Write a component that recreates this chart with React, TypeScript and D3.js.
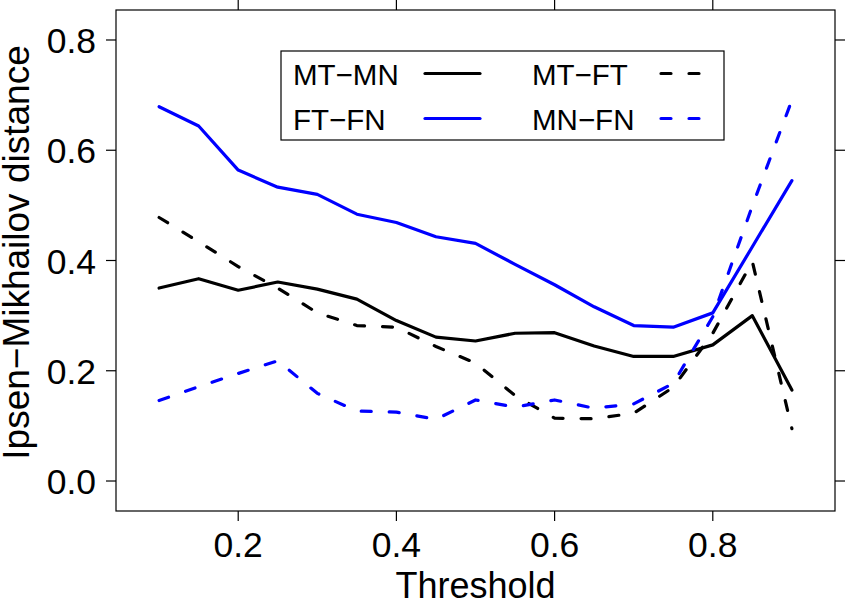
import * as d3 from "d3";

// thresholds on the x axis
const thresholds = [0.1, 0.15, 0.2, 0.25, 0.3, 0.35, 0.4, 0.45, 0.5, 0.55, 0.6, 0.65, 0.7, 0.75, 0.8, 0.85, 0.9];

// Ipsen-Mikhailov distance per pair
const mtMn = [0.35, 0.367, 0.346, 0.361, 0.348, 0.33, 0.291, 0.261, 0.254, 0.268, 0.269, 0.245, 0.226, 0.226, 0.247, 0.3, 0.165];
const mtFt = [0.478, 0.434, 0.389, 0.35, 0.305, 0.282, 0.279, 0.244, 0.214, 0.155, 0.114, 0.113, 0.123, 0.17, 0.268, 0.398, 0.095];
const ftFn = [0.679, 0.644, 0.564, 0.533, 0.52, 0.484, 0.469, 0.443, 0.431, 0.393, 0.356, 0.316, 0.282, 0.279, 0.305, 0.425, 0.545];
const mnFn = [0.146, 0.171, 0.195, 0.218, 0.159, 0.127, 0.125, 0.112, 0.147, 0.134, 0.147, 0.132, 0.14, 0.177, 0.298, 0.499, 0.691];

const xTicks = [0.2, 0.4, 0.6, 0.8];
const yTicks = [0.0, 0.2, 0.4, 0.6, 0.8];

const series = [
  { name: "MT\u2212MN", values: mtMn, color: "#000000", dashed: false },
  { name: "MT\u2212FT", values: mtFt, color: "#000000", dashed: true },
  { name: "FT\u2212FN", values: ftFn, color: "#0000ff", dashed: false },
  { name: "MN\u2212FN", values: mnFn, color: "#0000ff", dashed: true },
];

const font = "'Liberation Sans', Arial, Helvetica, sans-serif";

export default function App() {
  const left = 116, right = 835, top = 10, bottom = 511;
  const x = d3.scaleLinear().domain([0.0455, 0.9545]).range([left, right]);
  const y = d3.scaleLinear().domain([-0.0544, 0.8544]).range([bottom, top]);

  const line = d3
    .line<number>()
    .x((d, i) => x(thresholds[i]))
    .y((d) => y(d));

  const dash = "10 18";
  const lw = 3.2;

  // legend layout (2 x 2)
  const legend = { x0: 281, y0: 51, x1: 724, y1: 140 };
  const legendItems = [
    { s: series[0], tx: 293, lx: 425, ty: 84.5 },
    { s: series[1], tx: 532, lx: 661, ty: 84.5 },
    { s: series[2], tx: 293, lx: 425, ty: 129.5 },
    { s: series[3], tx: 532, lx: 661, ty: 129.5 },
  ];

  return (
    <svg
      width={845}
      height={602}
      style={{ position: "absolute", left: 0, top: 0, background: "#fff" }}
      fontFamily={font}
    >
      {/* lines */}
      {series.map((s) => (
        <path
          key={s.name}
          d={line(s.values) || ""}
          fill="none"
          stroke={s.color}
          strokeWidth={lw}
          strokeDasharray={s.dashed ? dash : undefined}
          strokeLinecap="round"
          strokeLinejoin="round"
        />
      ))}

      {/* panel box */}
      <rect x={left} y={top} width={right - left} height={bottom - top} fill="none" stroke="#000" strokeWidth={1.2} />

      {/* x ticks, bottom and top */}
      {xTicks.map((t) => (
        <g key={"x" + t}>
          <line x1={x(t)} x2={x(t)} y1={bottom} y2={bottom + 10} stroke="#000" strokeWidth={1.2} />
          <line x1={x(t)} x2={x(t)} y1={top} y2={top - 10} stroke="#000" strokeWidth={1.2} />
          <text x={x(t)} y={bottom + 46} textAnchor="middle" fontSize={35.5}>
            {t.toFixed(1)}
          </text>
        </g>
      ))}

      {/* y ticks, left and right */}
      {yTicks.map((t) => (
        <g key={"y" + t}>
          <line x1={left - 10} x2={left} y1={y(t)} y2={y(t)} stroke="#000" strokeWidth={1.2} />
          <line x1={right} x2={right + 10} y1={y(t)} y2={y(t)} stroke="#000" strokeWidth={1.2} />
          <text x={96} y={y(t) + 13} textAnchor="end" fontSize={35.5}>
            {t.toFixed(1)}
          </text>
        </g>
      ))}

      {/* axis titles */}
      <text x={(left + right) / 2} y={598} textAnchor="middle" fontSize={36}>
        Threshold
      </text>
      <text
        transform={`translate(29, ${(top + bottom) / 2 - 8}) rotate(-90)`}
        textAnchor="middle"
        fontSize={37}
      >
        Ipsen{"\u2212"}Mikhailov distance
      </text>

      {/* legend */}
      <rect
        x={legend.x0}
        y={legend.y0}
        width={legend.x1 - legend.x0}
        height={legend.y1 - legend.y0}
        fill="#fff"
        stroke="#000"
        strokeWidth={1.2}
      />
      {legendItems.map(({ s, tx, lx, ty }) => (
        <g key={"l" + s.name}>
          <text x={tx} y={ty} fontSize={29.5}>
            {s.name}
          </text>
          <line
            x1={lx}
            x2={s.dashed ? lx + 42 : lx + 55}
            y1={ty - 11}
            y2={ty - 11}
            stroke={s.color}
            strokeWidth={lw}
            strokeDasharray={s.dashed ? dash : undefined}
            strokeLinecap="round"
          />
        </g>
      ))}
    </svg>
  );
}
